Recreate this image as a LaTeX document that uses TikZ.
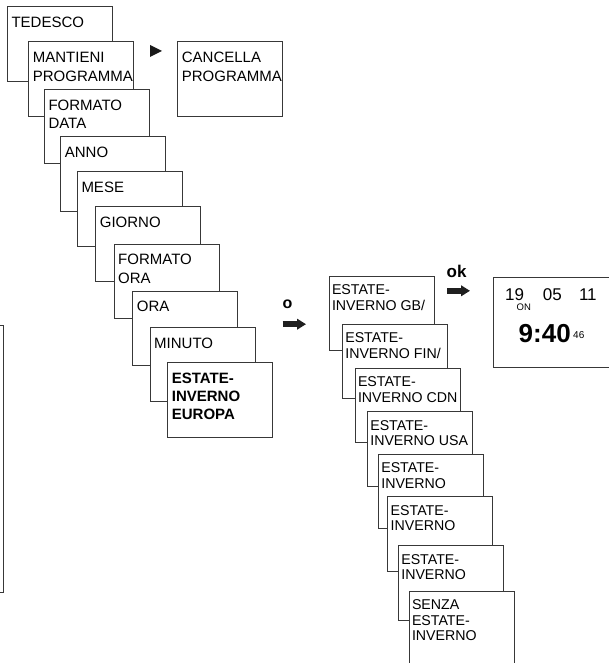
\documentclass[tikz,border=0pt]{standalone}
\usepackage{fontspec}
\setmainfont{Liberation Sans}
\usetikzlibrary{arrows.meta}
\tikzset{
  bx/.style={draw=black!78, line width=0.9pt, fill=white, inner sep=0pt, outer sep=0pt,
    anchor=north west, minimum width=105pt, minimum height=74.5pt},
  lt/.style={font=\fontsize{15}{18.5}\selectfont, align=left, inner sep=0pt, anchor=north west},
  ltb/.style={lt, font=\fontsize{15}{18}\selectfont\bfseries},
  rt/.style={font=\fontsize{14.2}{15.7}\selectfont, align=left, inner sep=0pt, anchor=north west},
  edge/.style={draw=black!78, line width=0.9pt},
  fat/.style={line width=5.5pt, black!88, -{Triangle[length=9pt,width=10.5pt]}},
  clk/.style={inner sep=0pt, anchor=base west}
}
\newcommand\LeftBox[5][lt]{%
  \node[bx] (#2) at (#3,#4) {};
  \node[#1] (#2t) at ([shift={(4pt,-10.3pt)}]#2.north west) {#5};}
\newcommand\RightBox[4]{%
  \node[bx] (#1) at (#2,#3) {};
  \node[rt] (#1t) at ([shift={(2.8pt,-8.4pt)}]#1.north west) {#4};}
\begin{document}
\begin{tikzpicture}[x=1pt,y=-1pt]
\path[use as bounding box] (0,0) rectangle (609,663);
\clip (0,0) rectangle (609,663);
% left column
\LeftBox{b1}{7.3}{6.7}{TEDESCO}
\LeftBox{b2}{28.7}{41.7}{MANTIENI\\PROGRAMMA}
\LeftBox{b3}{44.3}{89.3}{FORMATO\\DATA}
\LeftBox{b4}{60.7}{136.7}{ANNO}
\LeftBox{b5}{77.3}{171.7}{MESE}
\LeftBox{b6}{95.7}{206.7}{GIORNO}
\LeftBox{b7}{114}{244}{FORMATO\\ORA}
\LeftBox{b8}{132.7}{291}{ORA}
\LeftBox{b9}{150}{327.3}{MINUTO}
\LeftBox[ltb]{b10}{167.7}{362.7}{ESTATE-\\INVERNO\\EUROPA}
\LeftBox{c1}{177.7}{41.7}{CANCELLA\\PROGRAMMA}
% small triangle
\coordinate (tri) at (150,45);
\fill[black!90] (tri) -- ++(12,6) -- ++(-12,6) -- cycle;
% fragment of a box at the left edge
\draw[edge] (-20,325) -- (3.5,325) -- (3.5,592) -- (-20,592);
% arrow "o"
\node[font=\fontsize{16}{16}\selectfont\bfseries, inner sep=0pt, anchor=base west] (olbl) at (282.4,308.6) {o};
\coordinate (oS) at (282.7,324.2);
\coordinate (oE) at (306,324.2);
\draw[fat] (oS) -- (oE);
% right column
\RightBox{r1}{329}{276}{ESTATE-\\INVERNO GB/}
\RightBox{r2}{342.3}{324}{ESTATE-\\INVERNO FIN/}
\RightBox{r3}{355}{368.3}{ESTATE-\\INVERNO CDN}
\RightBox{r4}{367.3}{411.7}{ESTATE-\\INVERNO USA}
\RightBox{r5}{378.3}{454}{ESTATE-\\INVERNO}
\RightBox{r6}{387.7}{496.7}{ESTATE-\\INVERNO}
\RightBox{r7}{398.3}{545.7}{ESTATE-\\INVERNO}
\RightBox{r8}{409}{591}{SENZA\\ESTATE-\\INVERNO}
% arrow "ok"
\node[font=\fontsize{17}{17}\selectfont\bfseries, inner sep=0pt, anchor=base west] (oklbl) at (446.5,277.3) {ok};
\coordinate (kS) at (447,290.8);
\coordinate (kE) at (470,290.8);
\draw[fat] (kS) -- (kE);
% clock display
\node[bx, minimum width=140pt, minimum height=90pt] (clock) at (493.3,277) {};
\node[clk, font=\fontsize{17}{17}\selectfont] (d19) at (505,300.3) {19};
\node[clk, font=\fontsize{17}{17}\selectfont] (d05) at (542.6,300.3) {05};
\node[clk, font=\fontsize{17}{17}\selectfont] (d11) at (578.8,300.3) {11};
\node[clk, font=\fontsize{9.5}{9.5}\selectfont] (on) at (516.5,310.3) {ON};
\node[clk, font=\fontsize{26}{26}\selectfont\bfseries] (time) at (518.5,342) {9:40};
\node[clk, font=\fontsize{10}{10}\selectfont] (sec) at (573,338.7) {46};
\end{tikzpicture}
\end{document}
